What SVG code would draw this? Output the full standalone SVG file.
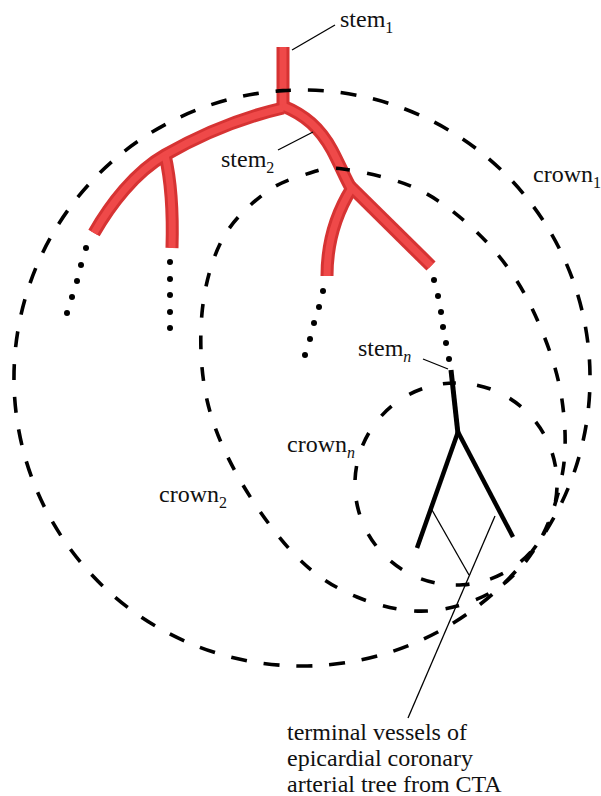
<svg xmlns="http://www.w3.org/2000/svg" width="601" height="796" viewBox="0 0 601 796">
<style>
.txt{font-family:"Liberation Serif","Times New Roman",serif;font-size:24px;fill:#111}
.sub{font-size:16px}
.red1{fill:none;stroke:#d63333;stroke-width:13;stroke-linecap:butt;stroke-linejoin:round}
.red2{fill:none;stroke:#ef4949;stroke-width:7;stroke-linecap:butt;stroke-linejoin:round}
.blk{fill:none;stroke:#000;stroke-width:4.5;stroke-linecap:butt;stroke-linejoin:round}
.crown{fill:none;stroke:#000;stroke-width:3.6}
.lead{fill:none;stroke:#000;stroke-width:1.3}
.dot{fill:#000}
</style>
<rect width="601" height="796" fill="#fff"/>

<g id="red-tree">
  <g class="red1">
    <path d="M283,47 L283,110"/>
    <path d="M283,108 C240,118 200,135 165,155 C135,172 110,205 94,233"/>
    <path d="M165,155 C172,185 173,215 172,248"/>
    <path d="M283,106 C305,115 320,128 332,150 C340,165 345,178 352,190"/>
    <path d="M352,188 C335,215 327,245 327,276"/>
    <path d="M350,186 L431,266"/>
  </g>
  <g class="red2">
    <path d="M283,47 L283,110"/>
    <path d="M283,108 C240,118 200,135 165,155 C135,172 110,205 94,233"/>
    <path d="M165,155 C172,185 173,215 172,248"/>
    <path d="M283,106 C305,115 320,128 332,150 C340,165 345,178 352,190"/>
    <path d="M352,188 C335,215 327,245 327,276"/>
    <path d="M350,186 L431,266"/>
  </g>
</g>

<g id="dots">
  <circle class="dot" cx="86" cy="248" r="3"/>
  <circle class="dot" cx="81" cy="265" r="3"/>
  <circle class="dot" cx="77" cy="281" r="3"/>
  <circle class="dot" cx="72" cy="297" r="3"/>
  <circle class="dot" cx="67" cy="313" r="3"/>

  <circle class="dot" cx="170" cy="262" r="3"/>
  <circle class="dot" cx="170" cy="279" r="3"/>
  <circle class="dot" cx="170" cy="295" r="3"/>
  <circle class="dot" cx="170" cy="312" r="3"/>
  <circle class="dot" cx="170" cy="328" r="3"/>

  <circle class="dot" cx="323" cy="291" r="3"/>
  <circle class="dot" cx="319" cy="307" r="3"/>
  <circle class="dot" cx="314" cy="323" r="3"/>
  <circle class="dot" cx="310" cy="339" r="3"/>
  <circle class="dot" cx="305" cy="355" r="3"/>

  <circle class="dot" cx="434" cy="280" r="3"/>
  <circle class="dot" cx="438" cy="296" r="3"/>
  <circle class="dot" cx="441" cy="312" r="3"/>
  <circle class="dot" cx="443" cy="327" r="3"/>
  <circle class="dot" cx="446" cy="343" r="3"/>
  <circle class="dot" cx="449" cy="359" r="3"/>
</g>

<g id="black-tree">
  <path class="blk" d="M451,370 L458,434" style="stroke-width:5"/>
  <path class="blk" d="M458,432 L417,548"/>
  <path class="blk" d="M458,432 L513,537"/>
</g>

<g id="crown1">
  <path class="crown" d="M283,90.6 A288,288 0 0 1 321,665.4 A288,288 0 0 1 283,90.6 Z" style="stroke-dasharray:16 16.9;stroke-dashoffset:8"/>
</g>
<g id="crown2">
  <path class="crown" pathLength="1280" style="stroke-dasharray:14 18;stroke-dashoffset:7" d="M343,169 C360.2,171.3 392.2,177.8 413,187 C433.8,196.2 451.3,209.3 468,224 C484.7,238.7 500.3,256.3 513,275 C525.7,293.7 535.8,315.2 544,336 C552.2,356.8 558.8,377.7 562,400 C565.2,422.3 566.7,446.7 563,470 C559.3,493.3 551.3,520 540,540 C528.7,560 513.8,578.2 495,590 C476.2,601.8 450,609.8 427,611 C404,612.2 378.7,606 357,597 C335.3,588 316.5,576.5 297,557 C277.5,537.5 255,506.2 240,480 C225,453.8 213.3,427.8 207,400 C200.7,372.2 199.5,339.7 202,313 C204.5,286.3 211.5,260 222,240 C232.5,220 250.3,204.2 265,193 C279.7,181.8 297,177 310,173 C323,169 325.8,166.7 343,169 Z"/>
</g>
<g id="crownn">
  <path class="crown" d="M449,383.2 A101,101 0 0 1 463,584.8 A101,101 0 0 1 449,383.2 Z" style="stroke-dasharray:14 21.26;stroke-dashoffset:7"/>
</g>

<g id="connectors">
  <line class="lead" x1="292" y1="50" x2="335" y2="25"/>
  <line class="lead" x1="278" y1="150" x2="313" y2="132"/>
  <line class="lead" x1="423" y1="359" x2="448" y2="369"/>
  <line class="lead" x1="432" y1="510" x2="469" y2="575"/>
  <line class="lead" x1="495" y1="516" x2="408" y2="718"/>
</g>

<g id="labels">
  <text class="txt" x="340" y="27">stem<tspan class="sub" dy="6">1</tspan></text>
  <text class="txt" x="221" y="167">stem<tspan class="sub" dy="6">2</tspan></text>
  <text class="txt" x="358" y="356">stem<tspan class="sub" dy="6" font-style="italic">n</tspan></text>
  <text class="txt" x="533" y="182">crown<tspan class="sub" dy="6">1</tspan></text>
  <text class="txt" x="159" y="502">crown<tspan class="sub" dy="6">2</tspan></text>
  <text class="txt" x="287" y="452">crown<tspan class="sub" dy="6" font-style="italic">n</tspan></text>
  <text class="txt" x="287" y="740">terminal vessels of</text>
  <text class="txt" x="287" y="766">epicardial coronary</text>
  <text class="txt" x="287" y="792">arterial tree from CTA</text>
</g>
</svg>
